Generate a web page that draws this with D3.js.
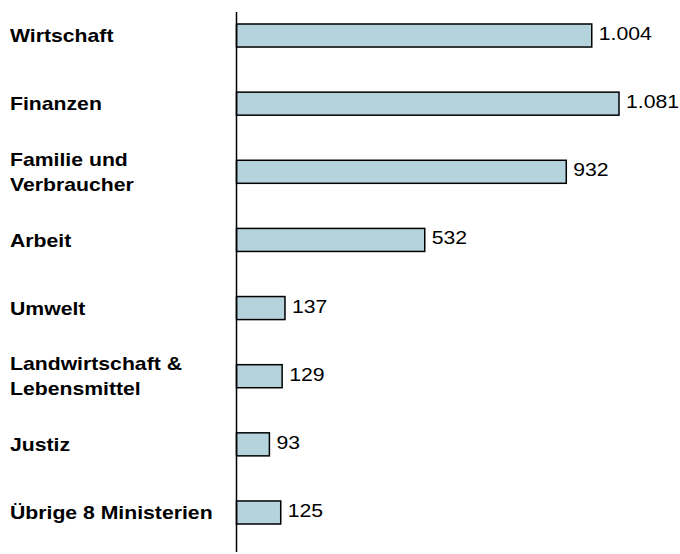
<!DOCTYPE html>
<html>
<head>
<meta charset="UTF-8">
<style>
body { margin: 0; background: #fff; }
.label { font-family: "Liberation Sans", Arial, sans-serif; font-weight: bold; font-size: 18.6px; fill: #000; }
.value { font-family: "Liberation Sans", Arial, sans-serif; font-size: 18.6px; fill: #000; }
.bar { fill: #b4d3dd; stroke: #000; stroke-width: 1.5px; }
</style>
</head>
<body>
<svg width="680" height="554"></svg>
<script src="https://cdn.jsdelivr.net/npm/d3@7"></script>
<script>
// Ministerien (Zeilenumbruch mit \n)
var categories = [
  "Wirtschaft",
  "Finanzen",
  "Familie und\nVerbraucher",
  "Arbeit",
  "Umwelt",
  "Landwirtschaft &\nLebensmittel",
  "Justiz",
  "Übrige 8 Ministerien"
];
var values = [1004, 1081, 932, 532, 137, 129, 93, 125];

var svg = d3.select("svg");

// the source picture is stretched sideways a bit
var stretch = 1.14;

var de = d3.formatLocale({decimal: ",", thousands: ".", grouping: [3], currency: ["", " €"]});
var fmt = de.format(",d");

var data = categories.map(function(c, i) { return {name: c, value: values[i]}; });

var x = d3.scaleLinear()
    .domain([0, d3.max(values)])
    .range([236.5, 619]);

var y = d3.scaleBand()
    .domain(categories)
    .range([24, 524])
    .paddingInner(0.662)
    .paddingOuter(0);

// bars
svg.selectAll(".bar")
  .data(data)
  .enter().append("rect")
    .attr("class", "bar")
    .attr("x", x(0))
    .attr("y", function(d) { return y(d.name); })
    .attr("width", function(d) { return x(d.value) - x(0); })
    .attr("height", y.bandwidth());

// axis line
svg.append("line")
    .attr("x1", x(0)).attr("x2", x(0))
    .attr("y1", y.range()[0] - 12)
    .attr("y2", y.range()[1] + 28)
    .attr("stroke", "#000")
    .attr("stroke-width", 1.5);

// value labels
svg.selectAll(".value")
  .data(data)
  .enter().append("text")
    .attr("class", "value")
    .attr("transform", function(d) {
      return "translate(" + (x(d.value) + 7) + "," + (y(d.name) + y.bandwidth() / 2 + 4.5) + ") scale(" + stretch + ",1)";
    })
    .text(function(d) { return fmt(d.value); });

// category labels
var lineH = 25;
var lab = svg.selectAll(".label")
  .data(data)
  .enter().append("text")
    .attr("class", "label")
    .attr("transform", function(d) {
      var n = d.name.split("\n").length;
      var cy = y(d.name) + y.bandwidth() / 2 + 6.7 - (n - 1) * lineH / 2;
      return "translate(10," + cy + ") scale(" + stretch + ",1)";
    });

lab.selectAll("tspan")
  .data(function(d) { return d.name.split("\n"); })
  .enter().append("tspan")
    .attr("x", 0)
    .attr("dy", function(d, i) { return i ? lineH : 0; })
    .text(function(d) { return d; });
</script>
</body>
</html>
